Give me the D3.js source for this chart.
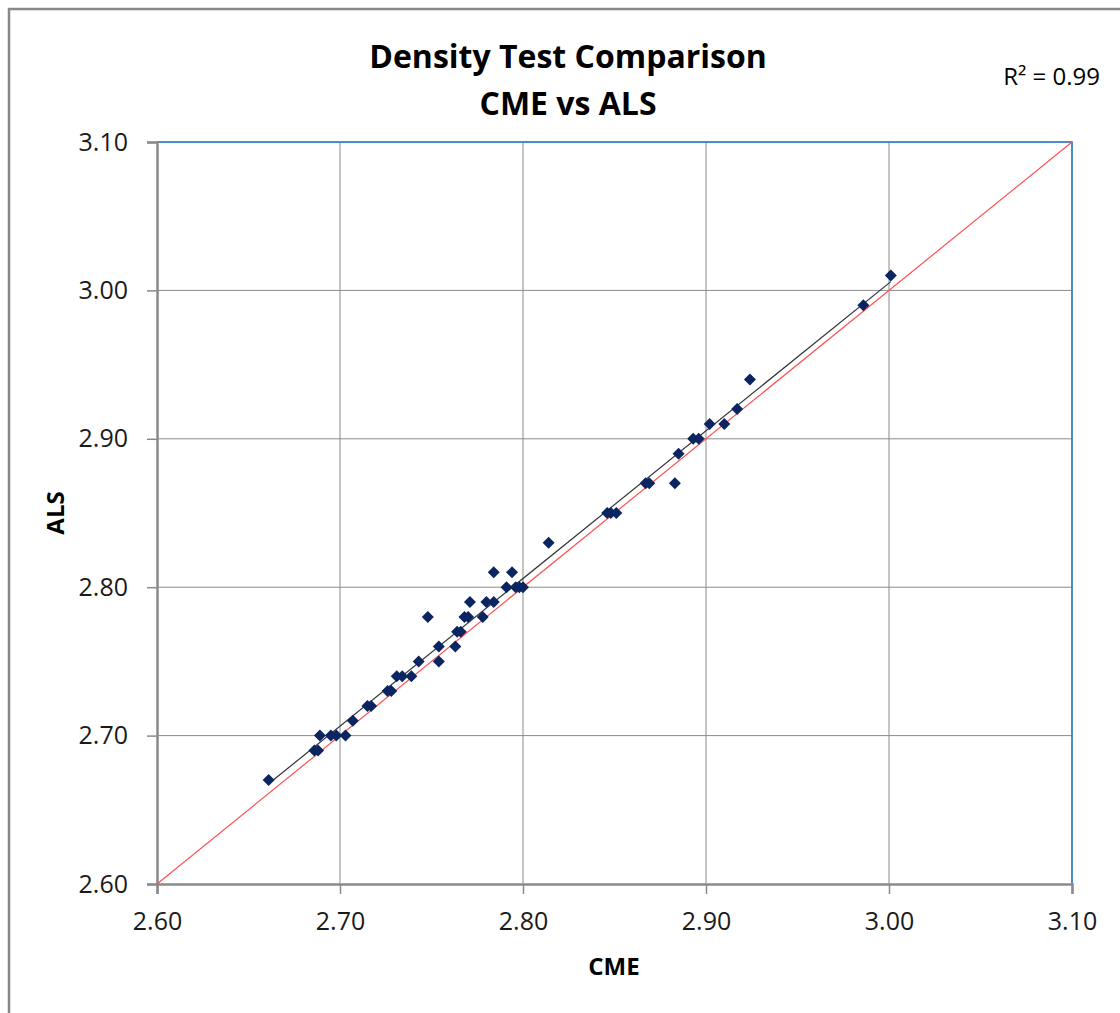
<!DOCTYPE html>
<html>
<head>
<meta charset="utf-8">
<script src="https://cdn.jsdelivr.net/npm/d3@7"></script>
<style>
  body { margin: 0; background: #fff; }
  text { font-family: "Open Sans", Lato, sans-serif; fill: #000; }
  .tick-label { font-size: 25px; fill: #1a1a1a; }
  .title { font-size: 32px; font-weight: bold; }
  .axis-title { font-size: 24px; font-weight: bold; }
</style>
</head>
<body>
<div id="chart"></div>
<script>
// CME (x) and ALS (y) density readings
const cme = [2.661, 2.686, 2.688, 2.689, 2.695, 2.698, 2.703, 2.707, 2.715, 2.717,
  2.726, 2.728, 2.731, 2.734, 2.739, 2.743, 2.748, 2.754, 2.754, 2.763,
  2.764, 2.766, 2.768, 2.770, 2.771, 2.778, 2.780, 2.784, 2.784, 2.791,
  2.794, 2.796, 2.798, 2.800, 2.814, 2.846, 2.848, 2.851, 2.867, 2.869,
  2.883, 2.885, 2.893, 2.896, 2.902, 2.910, 2.917, 2.924, 2.986, 3.001];
const als = [2.67, 2.69, 2.69, 2.70, 2.70, 2.70, 2.70, 2.71, 2.72, 2.72,
  2.73, 2.73, 2.74, 2.74, 2.74, 2.75, 2.78, 2.75, 2.76, 2.76,
  2.77, 2.77, 2.78, 2.78, 2.79, 2.78, 2.79, 2.79, 2.81, 2.80,
  2.81, 2.80, 2.80, 2.80, 2.83, 2.85, 2.85, 2.85, 2.87, 2.87,
  2.87, 2.89, 2.90, 2.90, 2.91, 2.91, 2.92, 2.94, 2.99, 3.01];
const ticks = [2.60, 2.70, 2.80, 2.90, 3.00, 3.10];

const width = 1120;
const height = 1013;
const plot = { left: 157, right: 1072, top: 142, bottom: 884 };

const svg = d3.select('#chart')
  .append('svg')
  .attr('width', width)
  .attr('height', height);

// outer chart frame (only top and left edges visible)
svg.append('path')
  .attr('d', `M9,${height + 5}V9H${width + 5}`)
  .attr('fill', 'none')
  .attr('stroke', '#888')
  .attr('stroke-width', 2.5);

const x = d3.scaleLinear().domain([2.6, 3.1]).range([plot.left, plot.right]);
const y = d3.scaleLinear().domain([2.6, 3.1]).range([plot.bottom, plot.top]);

// gridlines
svg.append('g')
  .selectAll('line')
  .data(ticks.slice(1))
  .enter()
  .append('line')
  .attr('x1', d => x(d)).attr('x2', d => x(d))
  .attr('y1', plot.top).attr('y2', plot.bottom)
  .attr('stroke', '#8a8a8a').attr('stroke-width', 1);

svg.append('g')
  .selectAll('line')
  .data(ticks.slice(1))
  .enter()
  .append('line')
  .attr('x1', plot.left).attr('x2', plot.right)
  .attr('y1', d => y(d)).attr('y2', d => y(d))
  .attr('stroke', '#8a8a8a').attr('stroke-width', 1);

// blue top/right plot border
svg.append('path')
  .attr('d', `M${plot.left},${plot.top}H${plot.right}V${plot.bottom}`)
  .attr('fill', 'none')
  .attr('stroke', '#1f7bd0')
  .attr('stroke-width', 1.5);

// axes
const xAxis = svg.append('g')
  .attr('transform', `translate(0,${plot.bottom})`)
  .call(d3.axisBottom(x).tickValues(ticks).tickFormat(d3.format('.2f')).tickSize(10).tickPadding(18));
const yAxis = svg.append('g')
  .attr('transform', `translate(${plot.left},0)`)
  .call(d3.axisLeft(y).tickValues(ticks).tickFormat(d3.format('.2f')).tickSize(10).tickPadding(19));

[xAxis, yAxis].forEach(a => {
  a.select('.domain').attr('stroke', '#8a8a8a').attr('stroke-width', 2.5);
  a.selectAll('.tick line').attr('stroke', '#8a8a8a').attr('stroke-width', 1.5);
  a.selectAll('.tick text')
    .attr('class', 'tick-label')
    .attr('font-family', null)
    .attr('font-size', null)
    .attr('fill', null);
});

// 1:1 reference line
svg.append('line')
  .attr('x1', x(2.6)).attr('y1', y(2.6))
  .attr('x2', x(3.1)).attr('y2', y(3.1))
  .attr('stroke', '#ff5050')
  .attr('stroke-width', 1.2);

// linear trendline over the data range
const mx = d3.mean(cme), my = d3.mean(als);
const slope = d3.sum(cme, (v, i) => (v - mx) * (als[i] - my)) / d3.sum(cme, v => (v - mx) ** 2);
const intercept = my - slope * mx;
const [xMin, xMax] = d3.extent(cme);
svg.append('line')
  .attr('x1', x(xMin)).attr('y1', y(intercept + slope * xMin))
  .attr('x2', x(xMax)).attr('y2', y(intercept + slope * xMax))
  .attr('stroke', '#333')
  .attr('stroke-width', 1.2);

// diamond markers
svg.append('g')
  .selectAll('path')
  .data(cme.map((c, i) => [c, als[i]]))
  .enter()
  .append('path')
  .attr('d', 'M0,-6L6,0L0,6L-6,0Z')
  .attr('transform', d => `translate(${x(d[0])},${y(d[1])})`)
  .attr('fill', '#0b2560');

// titles
svg.append('text')
  .attr('class', 'title')
  .attr('x', 568).attr('y', 68)
  .attr('text-anchor', 'middle')
  .text('Density Test Comparison');
svg.append('text')
  .attr('class', 'title')
  .attr('x', 568).attr('y', 115)
  .attr('text-anchor', 'middle')
  .text('CME vs ALS');

svg.append('text')
  .attr('x', 1100).attr('y', 85)
  .attr('text-anchor', 'end')
  .attr('font-size', 24)
  .attr('fill', '#222')
  .text('R² = 0.99');

svg.append('text')
  .attr('class', 'axis-title')
  .attr('x', 614).attr('y', 975)
  .attr('text-anchor', 'middle')
  .text('CME');

svg.append('text')
  .attr('class', 'axis-title')
  .attr('transform', 'translate(64,513) rotate(-90)')
  .attr('text-anchor', 'middle')
  .text('ALS');
</script>
</body>
</html>
